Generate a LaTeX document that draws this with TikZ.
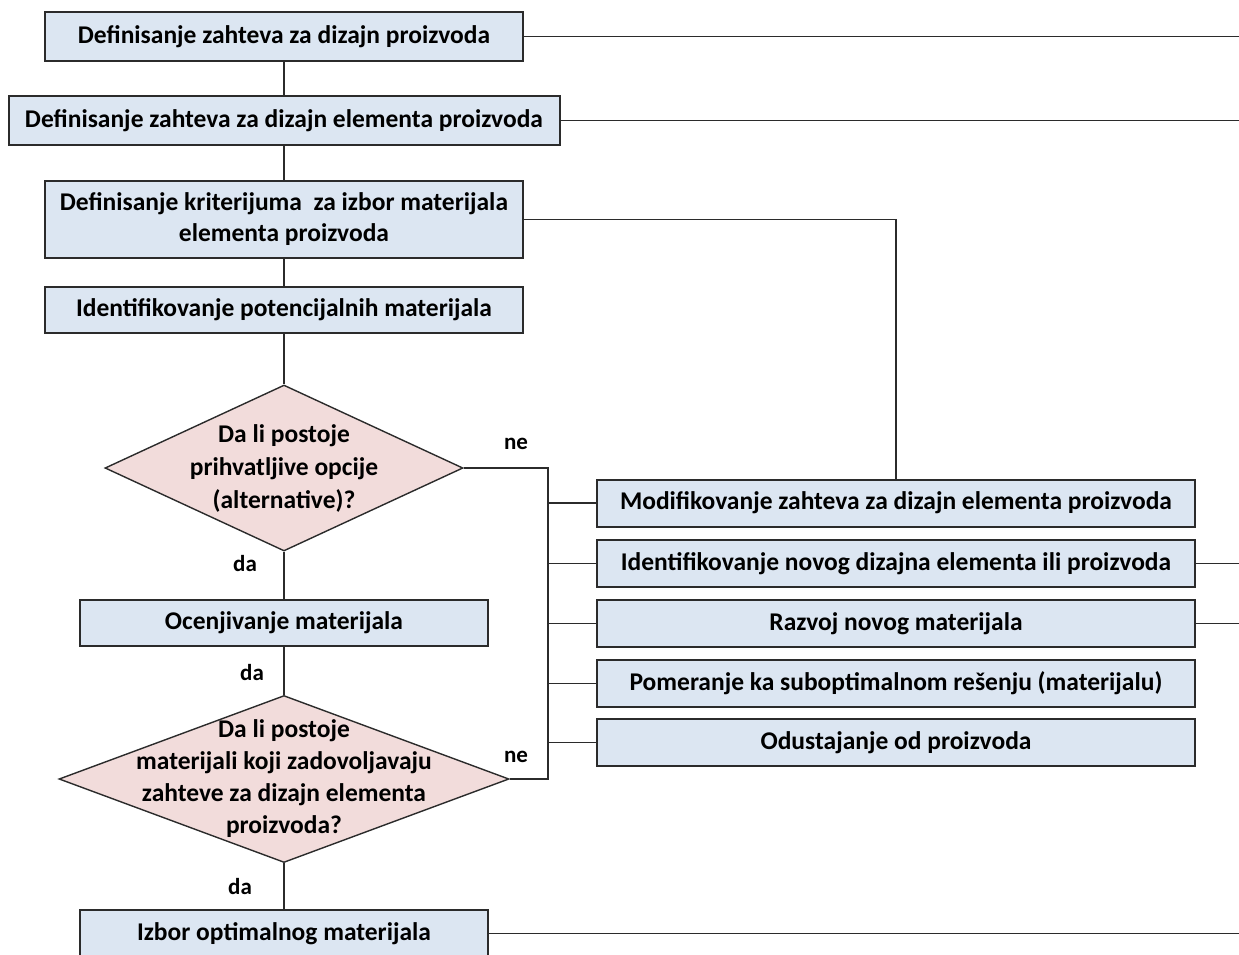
\documentclass[tikz,border=0pt]{standalone}
\usepackage{fontspec}
\setmainfont{Carlito}
\usetikzlibrary{shapes.geometric}
\definecolor{boxfill}{HTML}{DCE6F2}
\definecolor{decfill}{HTML}{F2DCDB}
\definecolor{edgeline}{HTML}{2B2B2B}

\begin{document}
\begin{tikzpicture}[x=1pt,y=-1pt,
  every node/.style={font=\fontsize{25.5}{31}\selectfont\bfseries},
  stepbox/.style={draw=edgeline, line width=2pt, fill=boxfill, rectangle,
    inner sep=0pt, align=center},
  decision/.style={diamond, draw=edgeline, line width=1.4pt, fill=decfill,
    inner sep=0pt},
  link/.style={draw=edgeline, line width=1.8pt},
  answer/.style={font=\fontsize{23}{25}\selectfont\bfseries, inner sep=0pt}]

\useasboundingbox (0,0) rectangle (1239,954);

% main column
\node[stepbox, minimum width=478pt, minimum height=49pt] (b1) at (284,36.5)
  {Definisanje zahteva za dizajn proizvoda};
\node[stepbox, minimum width=551pt, minimum height=49pt] (b2) at (284,120.5)
  {Definisanje zahteva za dizajn elementa proizvoda};
\node[stepbox, minimum width=478pt, minimum height=77pt] (b3) at (284,219.5)
  {Definisanje kriterijuma \ za izbor materijala\\elementa proizvoda};
\node[stepbox, minimum width=478pt, minimum height=46pt] (b4) at (284,310)
  {Identifikovanje potencijalnih materijala};
\node[decision, minimum width=358pt, minimum height=166pt,
  label={[align=center, font=\fontsize{25.5}{33}\selectfont\bfseries]center:{Da li postoje\\prihvatljive opcije\\(alternative)?}}]
  (d1) at (284,468) {};
\node[stepbox, minimum width=408pt, minimum height=46pt] (ev) at (284,623)
  {Ocenjivanje materijala};
\node[decision, minimum width=450pt, minimum height=167pt,
  label={[align=center, font=\fontsize{25.5}{32}\selectfont\bfseries]center:{Da li postoje\\materijali koji zadovoljavaju\\zahteve za dizajn elementa\\proizvoda?}}]
  (d2) at (284,779) {};
\node[stepbox, minimum width=408pt, minimum height=47pt] (iz) at (284,933.5)
  {Izbor optimalnog materijala};

% alternatives column
\node[stepbox, minimum width=598pt, minimum height=47pt] (m1) at (896,503)
  {Modifikovanje zahteva za dizajn elementa proizvoda};
\node[stepbox, minimum width=598pt, minimum height=47pt] (m2) at (896,563.5)
  {Identifikovanje novog dizajna elementa ili proizvoda};
\node[stepbox, minimum width=598pt, minimum height=47pt] (m3) at (896,623.5)
  {Razvoj novog materijala};
\node[stepbox, minimum width=598pt, minimum height=47pt] (m4) at (896,683.5)
  {Pomeranje ka suboptimalnom rešenju (materijalu)};
\node[stepbox, minimum width=598pt, minimum height=47pt] (m5) at (896,742.5)
  {Odustajanje od proizvoda};

% answer labels
\node[answer] (ne1) at (516,444) {ne};
\node[answer] (ne2) at (516,757) {ne};
\node[answer] (da1) at (245,564) {da};
\node[answer] (da2) at (252,673) {da};
\node[answer] (da3) at (240,886) {da};

% helper points
\coordinate (rim) at (1239,0);
\coordinate (bus1) at (548,468);
\coordinate (bus2) at (548,779);

% trunk
\draw[link] (b1.south) -- (b2.north);
\draw[link] (b2.south) -- (b3.north);
\draw[link] (b3.south) -- (b4.north);
\draw[link] (b4.south) -- (d1.north);
\draw[link] (d1.south) -- (ev.north);
\draw[link] (ev.south) -- (d2.north);
\draw[link] (d2.south) -- (iz.north);

% "ne" branches into the bus
\draw[link] (d1.east) -- (bus1) -- (bus2) -- (d2.east);
\foreach \m in {m1,m2,m3,m4,m5}
  \draw[link] (\m.west) -- (\m.west -| bus1);

% feedback lines
\draw[link] (b3.east) -| (m1.north);
\draw[link] (b1.east) -- (b1.east -| rim);
\draw[link] (b2.east) -- (b2.east -| rim);
\draw[link] (m2.east) -- (m2.east -| rim);
\draw[link] (m3.east) -- (m3.east -| rim);
\draw[link] (iz.east) -- (iz.east -| rim);
\end{tikzpicture}
\end{document}
